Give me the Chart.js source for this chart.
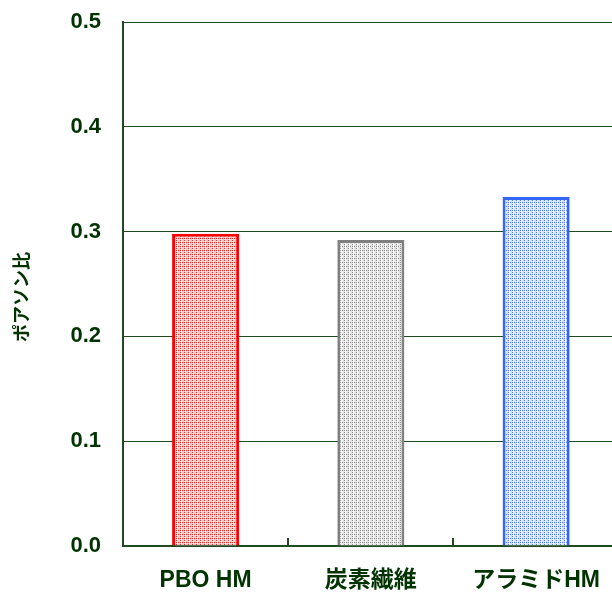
<!DOCTYPE html>
<html>
<head>
<meta charset="utf-8">
<script src="https://cdn.jsdelivr.net/npm/chart.js@4.4.1/dist/chart.umd.min.js"></script>
<style>
  html, body { margin: 0; padding: 0; background: #fff; overflow: hidden; }
  #wrap { width: 621px; height: 593px; position: relative; }
</style>
</head>
<body>
<div id="wrap"><canvas id="poisson"></canvas></div>
<script>
// データ
const categories = ['PBO HM', '炭素繊維', 'アラミドHM'];
const poissonValues = [0.298, 0.292, 0.333];
const yTitle = 'ポアソン比';
const barBorders = ['#ff0000', '#808080', '#3366ff'];
const barDots = ['#ff2020', '#909090', '#4a78ff'];
const barBase = ['#ffcccc', '#e4e4e4', '#d6e2ff'];

const inkColor = '#003300';
const lineColor = '#1f4a1f';
const fontFamily = "'Liberation Sans', Arial, 'Noto Sans CJK JP', sans-serif";

// 点描パターン
function dotPattern(base, dot) {
    const c = document.createElement('canvas');
    c.width = 4; c.height = 4;
    const g = c.getContext('2d');
    g.fillStyle = base;
    g.fillRect(0, 0, 4, 4);
    g.fillStyle = '#ffffff';
    g.fillRect(1, 0, 1, 4);
    g.fillStyle = dot;
    g.fillRect(0, 0, 1, 1);
    g.fillRect(2, 2, 1, 1);
    g.fillRect(0, 2, 1, 1);
    return g.createPattern(c, 'repeat');
}
const fills = barBase.map((b, i) => dotPattern(b, barDots[i]));

// x軸の内向き目盛り（カテゴリ境界）と縦軸タイトル
const extras = {
    id: 'extras',
    afterDatasetsDraw(chart) {
        const x = chart.scales.x;
        const y = chart.scales.y;
        const ctx = chart.ctx;
        ctx.save();
        ctx.strokeStyle = lineColor;
        ctx.lineWidth = 2;
        for (let i = 0; i < categories.length - 1; i++) {
            const px = Math.round((x.getPixelForTick(i) + x.getPixelForTick(i + 1)) / 2);
            ctx.beginPath();
            ctx.moveTo(px, y.bottom);
            ctx.lineTo(px, y.bottom - 8);
            ctx.stroke();
        }
        ctx.translate(21, (y.top + y.bottom) / 2 + 13);
        ctx.rotate(-Math.PI / 2);
        ctx.fillStyle = inkColor;
        ctx.font = "bold 18px 'Noto Sans CJK JP', sans-serif";
        ctx.textAlign = 'center';
        ctx.textBaseline = 'middle';
        ctx.fillText(yTitle, 0, 0);
        ctx.restore();
    }
};

new Chart(document.getElementById('poisson'), {
    type: 'bar',
    data: {
        labels: categories,
        datasets: [{
            data: poissonValues,
            backgroundColor: fills,
            borderColor: barBorders,
            borderWidth: 3,
            borderSkipped: 'bottom',
            categoryPercentage: 1,
            barPercentage: 0.406
        }]
    },
    options: {
        responsive: true,
        maintainAspectRatio: false,
        animation: false,
        layout: { padding: { top: 22, right: 0, left: 0, bottom: 0 } },
        plugins: {
            legend: { display: false },
            tooltip: { enabled: false }
        },
        scales: {
            x: {
                grid: { display: false, drawTicks: false },
                border: { display: true, color: lineColor, width: 2 },
                ticks: {
                    color: inkColor,
                    padding: 21,
                    font: { family: fontFamily, size: 23, weight: 'bold' },
                    maxRotation: 0
                },
                afterFit(scale) { scale.height = 47; }
            },
            y: {
                min: 0,
                max: 0.5,
                grid: { color: lineColor, lineWidth: 1, drawTicks: false },
                border: { display: true, color: lineColor, width: 2 },
                ticks: {
                    stepSize: 0.1,
                    color: inkColor,
                    padding: 22,
                    font: { family: fontFamily, size: 22, weight: 'bold' },
                    callback: v => v.toFixed(1)
                },
                afterFit(scale) {
                    scale.width = 123;
                    scale.paddingTop = 0;
                    scale.paddingBottom = 0;
                }
            }
        }
    },
    plugins: [extras]
});
</script>
</body>
</html>
